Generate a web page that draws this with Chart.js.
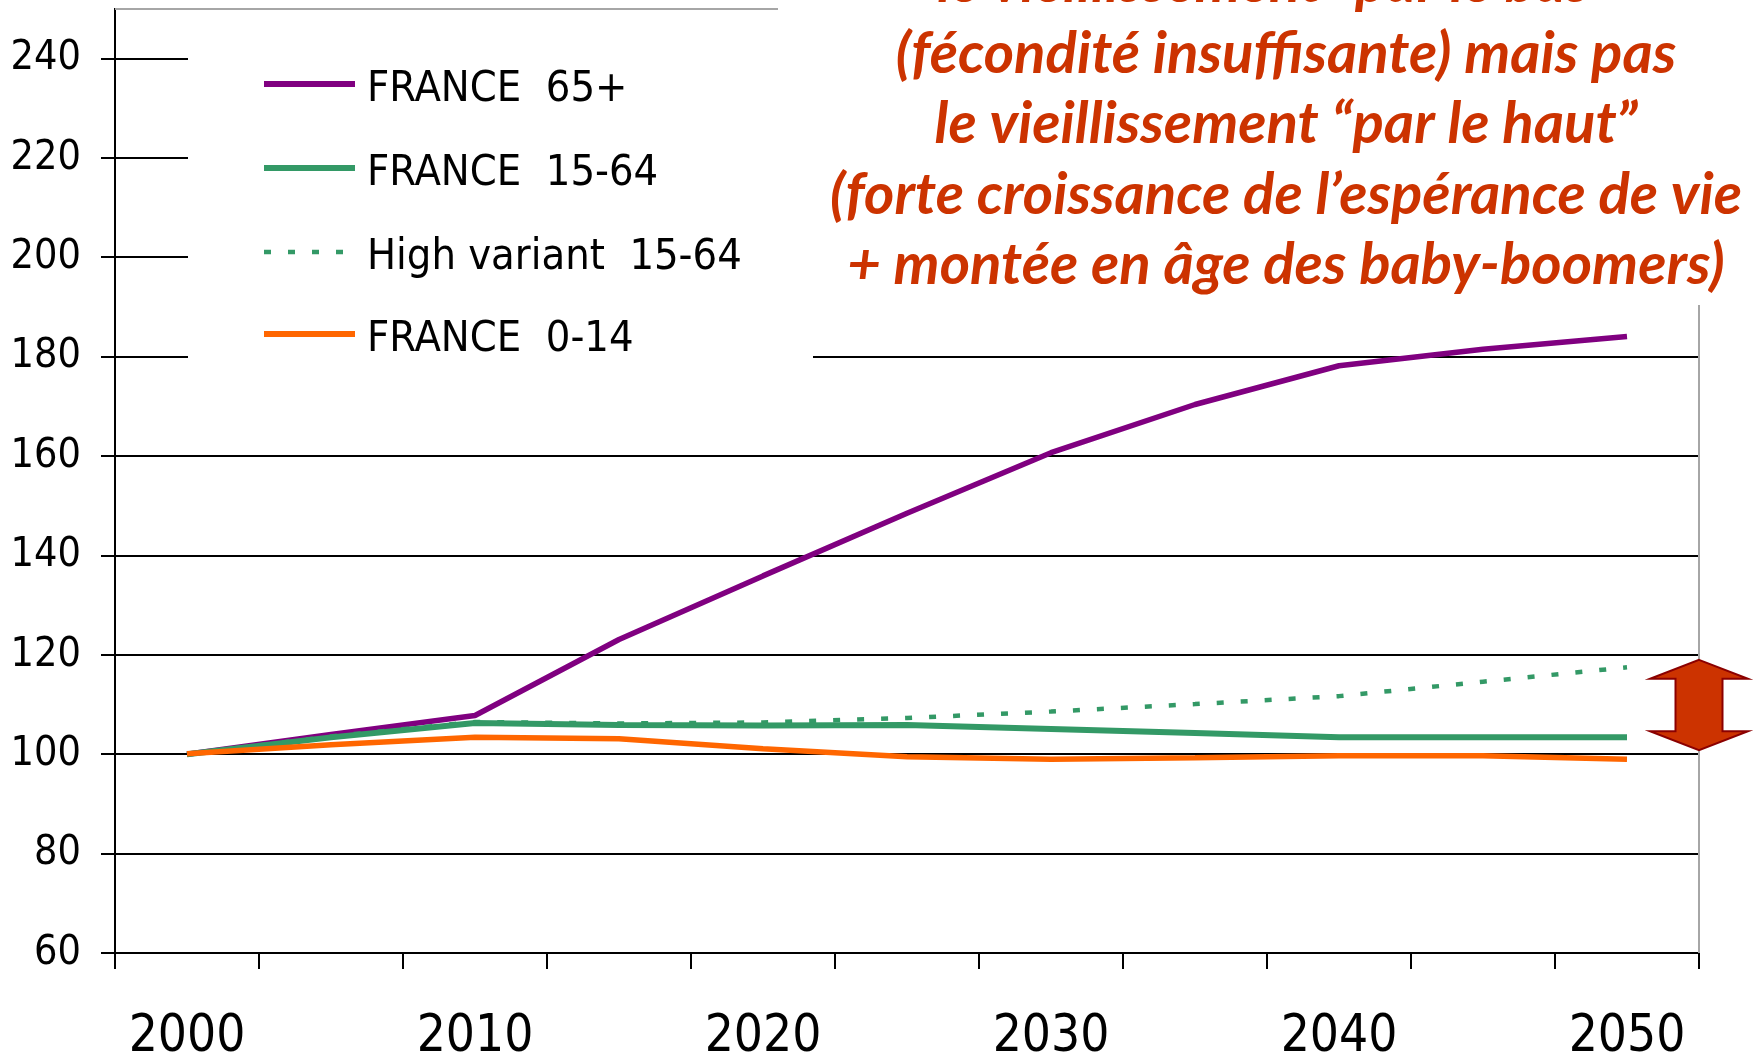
<!DOCTYPE html>
<html>
<head>
<meta charset='utf-8' />
<title>France - évolution par grand groupe d'âge (base 100 en 2000)</title>
<script src="https://cdn.jsdelivr.net/npm/chart.js"></script>
<style>
body { margin:0; padding:0; background:#ffffff; }
#wrap { width:1756px; height:1059px; }
</style>
</head>
<body>
<div id="wrap"><canvas id="popChart" width="1756" height="1059"></canvas></div>
<script>

/*************************************************/
/* data                                          */
/*************************************************/

const years = ['2000','2005','2010','2015','2020','2025','2030','2035','2040','2045','2050'];
const yearLabels = ['2000','2010','2020','2030','2040','2050'];
const yTicks = [60, 80, 100, 120, 140, 160, 180, 200, 220, 240];

const france65 =   [100, 104.0, 107.8, 123.1, 135.9, 148.5, 160.7, 170.4, 178.2, 181.5, 184.1];
const france1564 = [100, 103.4, 106.3, 105.9, 105.8, 105.9, 105.1, 104.3, 103.4, 103.4, 103.4];
const high1564 =   [100, 103.6, 106.5, 106.2, 106.4, 107.3, 108.6, 110.1, 111.7, 114.6, 117.5];
const france014 =  [100.1, 101.9, 103.4, 103.1, 101.1, 99.5, 99.0, 99.3, 99.7, 99.7, 99.0];

const seriesNames = ['FRANCE  65+', 'FRANCE  15-64', 'High variant  15-64', 'FRANCE  0-14'];

const noteLines = [
  'le vieillissement \u201cpar le bas\u201d',
  '(f\u00e9condit\u00e9 insuffisante) mais pas',
  'le vieillissement \u201cpar le haut\u201d',
  '(forte croissance de l\u2019esp\u00e9rance de vie',
  '+ mont\u00e9e en \u00e2ge des baby-boomers)'
];

// arrow between the two 15-64 variants at 2050 (values)
const arrowTop = 119;
const arrowBottom = 100.8;

/*************************************************/
/* styles                                        */
/*************************************************/

const AXIS_FONT = "'DejaVu Sans Condensed', 'DejaVu Sans', sans-serif";
const NOTE_FONT = "Lato, 'Open Sans', sans-serif";
const NOTE_COLOR = '#cc3300';

/*************************************************/
/* decorations : frame, legend box, note, arrow  */
/*************************************************/

const decor = {
  id: 'decor',
  afterDraw(chart) {
    const ctx = chart.ctx;
    const a = chart.chartArea;
    const ys = chart.scales.y;

    ctx.save();

    // grey frame top + right
    ctx.strokeStyle = '#a6a6a6';
    ctx.lineWidth = 2;
    ctx.beginPath();
    ctx.moveTo(a.left, a.top);
    ctx.lineTo(a.right, a.top);
    ctx.lineTo(a.right, a.bottom);
    ctx.stroke();

    // white boxes (note + legend)
    ctx.fillStyle = '#ffffff';
    ctx.fillRect(778, 0, chart.width - 778, 305);
    ctx.fillRect(188, 12, 625, 353);

    // legend
    const rows = [84, 168, 252, 334];
    chart.data.datasets.forEach((ds, i) => {
      const yy = rows[i];
      ctx.strokeStyle = ds.borderColor;
      ctx.lineWidth = ds.borderDash ? 4.5 : 6;
      ctx.setLineDash(ds.borderDash ? [7, 17] : []);
      ctx.beginPath();
      ctx.moveTo(264, yy);
      ctx.lineTo(ds.borderDash ? 345 : 355, yy);
      ctx.stroke();
      ctx.setLineDash([]);
      ctx.fillStyle = '#000000';
      ctx.font = '43px ' + AXIS_FONT;
      ctx.textAlign = 'left';
      ctx.textBaseline = 'alphabetic';
      ctx.fillText(ds.label, 367, yy + 17);
    });

    // note text
    ctx.fillStyle = NOTE_COLOR;
    ctx.font = 'italic bold 44px ' + NOTE_FONT;
    const w = ctx.measureText(noteLines[3]).width;
    const size = 44 * 912 / w;
    ctx.font = 'italic bold ' + size.toFixed(1) + 'px ' + NOTE_FONT;
    ctx.textAlign = 'center';
    ctx.textBaseline = 'alphabetic';
    noteLines.forEach((t, i) => {
      ctx.fillText(t, i == 0 ? 1274 : 1286, 2 + i * 70.5);
    });

    // double arrow
    const cx = a.right;
    const t = ys.getPixelForValue(arrowTop);
    const b = ys.getPixelForValue(arrowBottom);
    const hw = 49, sw = 23.5, hh = 19;
    ctx.beginPath();
    ctx.moveTo(cx, t);
    ctx.lineTo(cx + hw, t + hh);
    ctx.lineTo(cx + sw, t + hh);
    ctx.lineTo(cx + sw, b - hh);
    ctx.lineTo(cx + hw, b - hh);
    ctx.lineTo(cx, b);
    ctx.lineTo(cx - hw, b - hh);
    ctx.lineTo(cx - sw, b - hh);
    ctx.lineTo(cx - sw, t + hh);
    ctx.lineTo(cx - hw, t + hh);
    ctx.closePath();
    ctx.fillStyle = '#cc3300';
    ctx.fill();
    ctx.strokeStyle = '#8b0000';
    ctx.lineWidth = 2;
    ctx.stroke();

    ctx.restore();
  }
};

/*************************************************/
/* chart                                         */
/*************************************************/

const lineDs = (label, data, color, width, order, dash) => ({
  label: label,
  data: data,
  borderColor: color,
  backgroundColor: color,
  borderWidth: width,
  borderDash: dash,
  pointRadius: 0,
  tension: 0,
  borderCapStyle: 'butt',
  borderJoinStyle: 'bevel',
  fill: false,
  order: order
});

const ctx = document.getElementById('popChart');

const popChart = new Chart(ctx, {
  type: 'line',
  data: {
    labels: years,
    datasets: [
      lineDs(seriesNames[0], france65, '#800080', 5.5, 3),
      lineDs(seriesNames[1], france1564, '#339966', 6, 1),
      lineDs(seriesNames[2], high1564, '#339966', 4.5, 2, [7, 17]),
      lineDs(seriesNames[3], france014, '#ff6600', 5.5, 0)
    ]
  },
  options: {
    responsive: false,
    animation: false,
    layout: {
      padding: { top: 9, right: 57, left: 0, bottom: 0 }
    },
    plugins: {
      legend: { display: false },
      tooltip: { enabled: false }
    },
    scales: {
      x: {
        type: 'category',
        offset: true,
        grid: {
          offset: true,
          drawOnChartArea: false,
          drawTicks: true,
          tickLength: 16,
          color: '#000000',
          lineWidth: 2
        },
        border: { display: true, color: '#000000', width: 2 },
        ticks: {
          autoSkip: false,
          maxRotation: 0,
          padding: 38,
          color: '#000000',
          font: { family: AXIS_FONT, size: 51 },
          callback: (v, i) => yearLabels.includes(years[i]) ? years[i] : ''
        },
        afterFit: s => {
          s.height = 106;
          s.paddingLeft = 0;
          s.paddingRight = 0;
        }
      },
      y: {
        min: 60,
        max: 250,
        grid: {
          color: '#000000',
          lineWidth: 2,
          tickLength: 14
        },
        border: { display: true, color: '#000000', width: 2 },
        ticks: {
          stepSize: 20,
          padding: 20,
          color: '#000000',
          font: { family: AXIS_FONT, size: 41 }
        },
        afterBuildTicks: s => {
          s.ticks = yTicks.map(v => ({ value: v }));
        },
        afterFit: s => {
          s.width = 115;
          s.paddingTop = 0;
          s.paddingBottom = 0;
        }
      }
    }
  },
  plugins: [decor]
});

</script>
</body>
</html>
